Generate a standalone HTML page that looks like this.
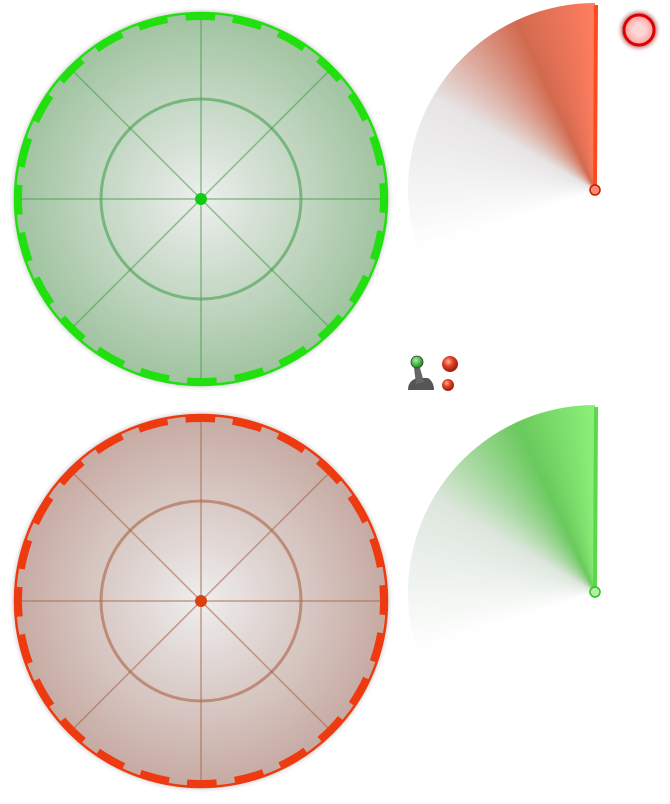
<!DOCTYPE html>
<html><head><meta charset="utf-8"><style>
html,body{margin:0;padding:0;background:#fff;width:670px;height:804px;overflow:hidden;position:relative;font-family:"Liberation Sans",sans-serif}
.wrap{position:absolute;width:190px;height:250px;overflow:hidden}
.sweep{position:absolute;left:0;top:0;width:374px;height:374px;border-radius:50%}
</style></head><body>
<svg width="670" height="804" style="position:absolute;left:0;top:0">
<defs>
<radialGradient id="gg" cx="50%" cy="50%" r="50%"><stop offset="0" stop-color="#eeeeee"/><stop offset="1" stop-color="#9fc39f"/></radialGradient>
<radialGradient id="rg" cx="50%" cy="50%" r="50%"><stop offset="0" stop-color="#eeeeee"/><stop offset="1" stop-color="#c6aaa2"/></radialGradient>
<filter id="sh" x="-10%" y="-10%" width="120%" height="120%"><feGaussianBlur stdDeviation="2"/></filter>
<radialGradient id="btn" cx="50%" cy="50%" r="50%"><stop offset="0.4" stop-color="#ffd6d6"/><stop offset="1" stop-color="#ff9a9a"/></radialGradient>
<radialGradient id="ball" cx="40%" cy="35%" r="60%"><stop offset="0" stop-color="#ffb0a0"/><stop offset="0.5" stop-color="#e04020"/><stop offset="1" stop-color="#a02010"/></radialGradient>
<radialGradient id="gball" cx="40%" cy="35%" r="60%"><stop offset="0" stop-color="#a0f0a0"/><stop offset="1" stop-color="#209020"/></radialGradient>
</defs>
<g id="scopes"></g>
<circle cx="639" cy="30" r="18" fill="#800" opacity="0.6" filter="url(#sh)"/>
<circle cx="639" cy="30" r="15" fill="url(#btn)" stroke="#dd0000" stroke-width="3"/>
<g>
<path d="M408 390 Q408 380 418 378 L428 378 Q434 382 434 390 Z" fill="#555"/>
<path d="M414 368 L420 368 L424 382 L416 384 Z" fill="#666"/>
<circle cx="417" cy="362" r="6" fill="url(#gball)" stroke="#333" stroke-width="0.8"/>
</g>
<circle cx="450" cy="364" r="8" fill="url(#ball)"/>
<circle cx="448" cy="385" r="6" fill="url(#ball)"/>
</svg>
<div class="wrap" style="left:408px;top:3px">
<div class="sweep" style="background:conic-gradient(from 0deg,rgba(255,120,90,1) 0deg,transparent 0deg,transparent 250deg,rgba(220,220,220,0) 250deg,rgba(200,195,195,0.45) 300deg,rgba(205,90,60,0.9) 335deg,rgba(255,125,95,1) 360deg)"></div>
</div>
<div class="wrap" style="left:408px;top:405px">
<div class="sweep" style="background:conic-gradient(from 0deg,rgba(140,240,120,1) 0deg,transparent 0deg,transparent 250deg,rgba(220,220,220,0) 250deg,rgba(180,200,180,0.45) 300deg,rgba(90,195,75,0.9) 335deg,rgba(140,240,120,1) 360deg)"></div>
</div>
<svg width="670" height="804" style="position:absolute;left:0;top:0;pointer-events:none">
<line x1="595" y1="188" x2="596" y2="5" stroke="#ff4a20" stroke-width="4"/>
<circle cx="595" cy="190" r="5" fill="#ff8870" stroke="#c02000" stroke-width="1.5"/>
<line x1="595" y1="590" x2="596" y2="407" stroke="#5cd64a" stroke-width="4"/>
<circle cx="595" cy="592" r="5" fill="#b0f0a0" stroke="#30c020" stroke-width="1.5"/>
</svg>
<script>
const scopes=[{cx:201,cy:199,fill:'url(#gg)',ring:'#22e010',grid:'rgba(70,160,80,0.6)',dot:'#10cc10',name:'green-scope'},
{cx:201,cy:601,fill:'url(#rg)',ring:'#ee3a10',grid:'rgba(170,100,70,0.6)',dot:'#dd4010',name:'red-scope'}];
const g=document.getElementById('scopes');const NS='http://www.w3.org/2000/svg';
function mk(t,a,p){const e=document.createElementNS(NS,t);for(const k in a)e.setAttribute(k,a[k]);p.appendChild(e);return e;}
scopes.forEach(s=>{
 const grp=mk('g',{},g);
 
 
 mk('circle',{cx:s.cx,cy:s.cy,r:188,fill:'#999',opacity:0.5,filter:'url(#sh)'},grp);
 mk('circle',{cx:s.cx,cy:s.cy,r:186,fill:s.fill,stroke:s.ring,'stroke-width':2.5},grp);
 const C=2*Math.PI*182.5,n=24;
 mk('circle',{cx:s.cx,cy:s.cy,r:182.5,fill:'none',stroke:s.ring,'stroke-width':7,'stroke-dasharray':(C/n*0.62)+' '+(C/n*0.38),transform:'rotate(-80 '+s.cx+' '+s.cy+')'},grp);
 mk('circle',{cx:s.cx,cy:s.cy,r:100,fill:'none',stroke:s.grid,'stroke-width':3},grp);
 for(let i=0;i<4;i++){const a=i*Math.PI/4,r=180;
  mk('line',{x1:s.cx-r*Math.cos(a),y1:s.cy-r*Math.sin(a),x2:s.cx+r*Math.cos(a),y2:s.cy+r*Math.sin(a),stroke:s.grid,'stroke-width':1.5},grp);}
 mk('circle',{cx:s.cx,cy:s.cy,r:6,fill:s.dot},grp);
});
</script>
</body></html>
